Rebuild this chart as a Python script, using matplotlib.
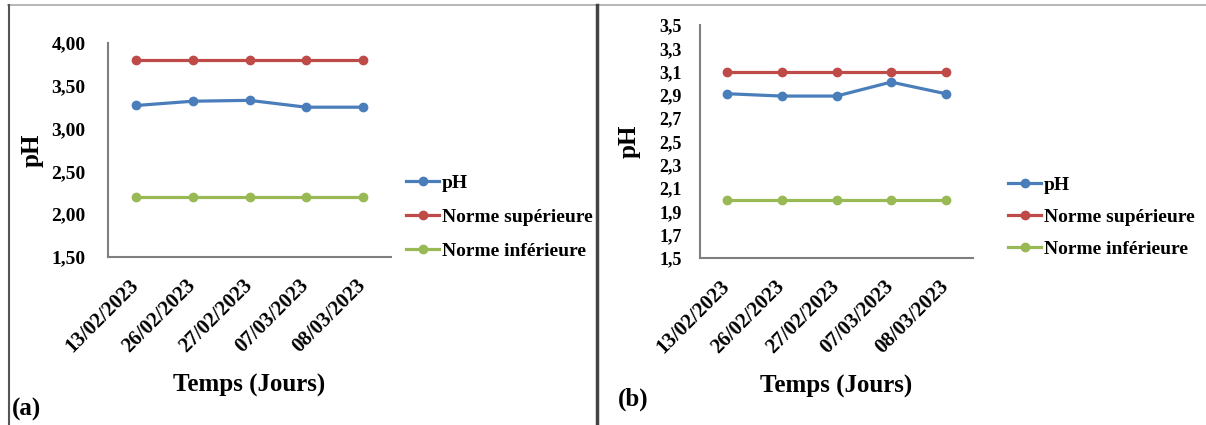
import matplotlib.pyplot as plt
from matplotlib.lines import Line2D

plt.rcParams['font.family'] = ['Liberation Serif', 'DejaVu Serif']
plt.rcParams['font.weight'] = 'bold'

dates = ["13/02/2023", "26/02/2023", "27/02/2023", "07/03/2023", "08/03/2023"]

# panel (a)
ph_a = [3.27, 3.32, 3.33, 3.25, 3.25]
sup_a = [3.80, 3.80, 3.80, 3.80, 3.80]
inf_a = [2.20, 2.20, 2.20, 2.20, 2.20]
yticks_a = [1.5, 2.0, 2.5, 3.0, 3.5, 4.0]
ylabels_a = ["1,50", "2,00", "2,50", "3,00", "3,50", "4,00"]

# panel (b)
ph_b = [2.91, 2.89, 2.89, 3.01, 2.91]
sup_b = [3.10, 3.10, 3.10, 3.10, 3.10]
inf_b = [2.00, 2.00, 2.00, 2.00, 2.00]
yticks_b = [1.5, 1.7, 1.9, 2.1, 2.3, 2.5, 2.7, 2.9, 3.1, 3.3, 3.5]
ylabels_b = ["1,5", "1,7", "1,9", "2,1", "2,3", "2,5", "2,7", "2,9", "3,1", "3,3", "3,5"]

names = ["pH", "Norme supérieure", "Norme inférieure"]
colors = ["#4A7EBB", "#BE4B48", "#98B954"]

W, H = 1206, 425
fig = plt.figure(figsize=(W / 100, H / 100), dpi=100)


def px(x0, y0, x1, y1):
    return [x0 / W, 1 - y1 / H, (x1 - x0) / W, (y1 - y0) / H]


def panel(rect, series, yticks, ylabels, tick_fs, ypad, leg_xy, leg_sp, lab_x, letter, letter_xy):
    ax = fig.add_axes(px(*rect))
    x = list(range(len(dates)))
    for vals, c in zip(series, colors):
        ax.plot(x, vals, color=c, lw=2.3, marker='o', ms=6)
    ax.set_xlim(-0.5, len(dates) - 0.5)
    ax.set_ylim(yticks[0], yticks[-1])
    ax.set_yticks(yticks)
    ax.set_yticklabels(ylabels, fontsize=tick_fs, fontweight='bold')
    ax.set_xticks(x)
    ax.set_xticklabels(dates, rotation=45, ha='right', va='center',
                       rotation_mode='anchor', fontsize=15, fontweight='bold')
    ax.tick_params(axis='y', length=0, pad=ypad)
    ax.tick_params(axis='x', length=0, pad=18)
    for s in ['top', 'right']:
        ax.spines[s].set_visible(False)
    for s in ['left', 'bottom']:
        ax.spines[s].set_color('#7f7f7f')
        ax.spines[s].set_linewidth(1.5)
    ax.set_ylabel("pH", fontsize=18, fontweight='bold')
    ax.yaxis.set_label_coords((lab_x + 12 - rect[0]) / (rect[2] - rect[0]), 0.5)
    ax.set_xlabel("Temps (Jours)", fontsize=18, fontweight='bold', labelpad=13)
    handles = [Line2D([], [], color=c, lw=2.3, marker='o', ms=6) for c in colors]
    fig.legend(handles, names, loc='upper left',
               bbox_to_anchor=(leg_xy[0] / W, 1 - leg_xy[1] / H),
               frameon=False, borderpad=0, borderaxespad=0,
               handlelength=1.7, handletextpad=0.15, labelspacing=leg_sp,
               prop={'family': 'Liberation Serif', 'weight': 'bold', 'size': 14})
    fig.text(letter_xy[0] / W, 1 - letter_xy[1] / H, letter, fontsize=18,
             fontweight='bold', ha='left', va='center')
    return ax


panel((108, 43, 391, 257), [ph_a, sup_a, inf_a], yticks_a, ylabels_a, 14, 16,
      (406, 174), 0.85, 32, "(a)", (12, 409))
panel((700, 25, 973, 258), [ph_b, sup_b, inf_b], yticks_b, ylabels_b, 13, 13,
      (1008, 176), 0.75, 629, "(b)", (618, 399))

# frame lines of the figure
fig.add_artist(Line2D([8 / W, 1], [1 - 5 / H, 1 - 5 / H], color='#aaaaaa', lw=1.2))
fig.add_artist(Line2D([9 / W, 9 / W], [0, 1 - 5 / H], color='#555555', lw=1.5))
fig.add_artist(Line2D([597 / W, 597 / W], [0, 1 - 5 / H], color='#444444', lw=2.5))

fig.savefig("out.png", dpi=100)
